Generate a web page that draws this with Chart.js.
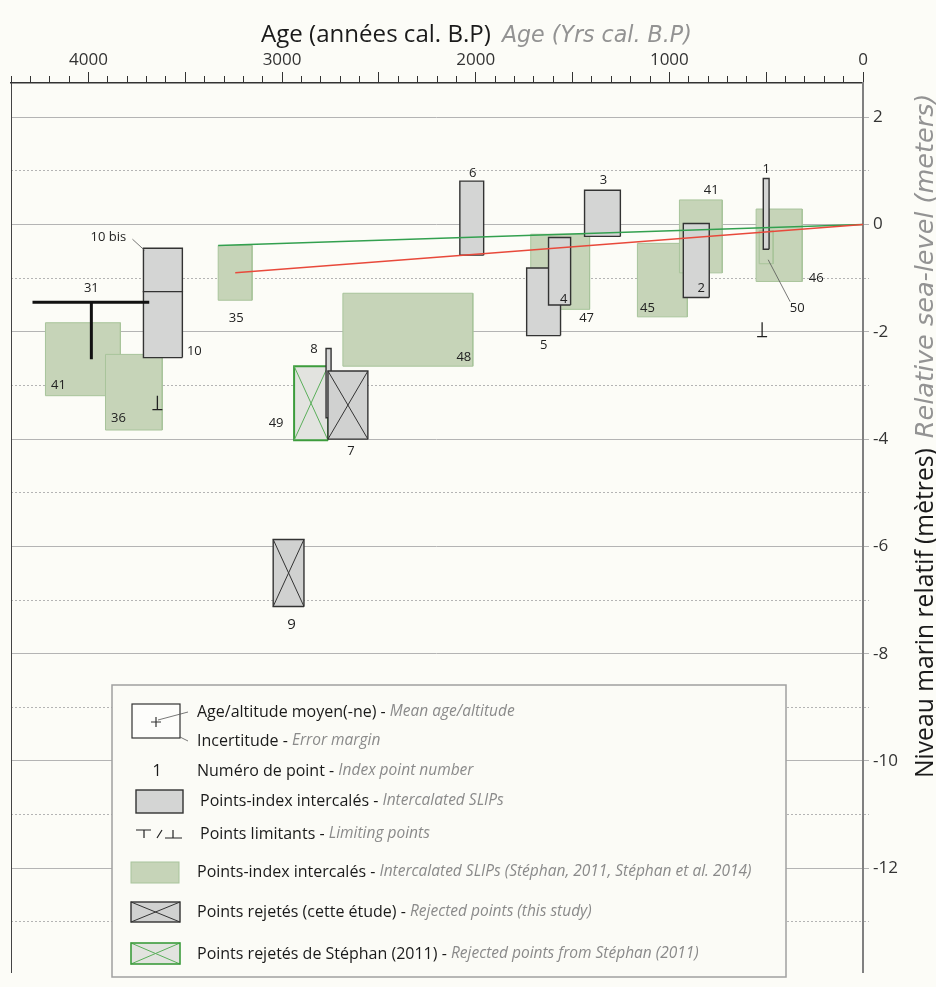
<!DOCTYPE html>
<html lang="fr">
<head>
<meta charset="utf-8">
<title>Niveau marin relatif</title>
<script src="https://cdn.jsdelivr.net/npm/chart.js@4.4.1/dist/chart.umd.min.js"></script>
<style>
html,body{margin:0;padding:0;background:#fcfcf7;overflow:hidden;}
canvas{display:block;}
</style>
</head>
<body>
<canvas id="chart" width="936" height="987"></canvas>
<script>
// ================= DATA =================
// Axis tick labels
const ageTickLabels = [4000, 3000, 2000, 1000, 0];
const levelTickLabels = [2, 0, -2, -4, -6, -8, -10, -12];

// Intercalated SLIPs (this study) - grey boxes
const slipLabels = ['10 bis', '10', '6', '3', '5', '4', '2', '1', '8'];
const slipAgeMin = [3515, 3515, 1959, 1253, 1562, 1510, 794, 485, 2747];
const slipAgeMax = [3716, 3716, 2082, 1438, 1737, 1624, 928, 515, 2773];
const slipZMin   = [-1.25, -2.48, -0.57, -0.22, -2.07, -1.50, -1.36, -0.46, -3.60];
const slipZMax   = [-0.44, -1.25, 0.81, 0.64, -0.81, -0.24, 0.02, 0.86, -2.31];

// Intercalated SLIPs (Stéphan 2011, Stéphan et al. 2014) - green boxes
const stephanLabels = ['41', '36', '35', '48', '47', '45', '41', '46', '50'];
const stephanAgeMin = [3835, 3619, 3155, 2015, 1412, 907, 727, 314, 464];
const stephanAgeMax = [4222, 3912, 3330, 2686, 1716, 1165, 948, 552, 536];
const stephanZMin   = [-3.19, -3.83, -1.41, -2.64, -1.58, -1.72, -0.90, -1.06, -0.73];
const stephanZMax   = [-1.83, -2.42, -0.39, -1.28, -0.18, -0.35, 0.46, 0.29, -0.11];

// Rejected points (this study)
const rejectedLabels = ['7', '9'];
const rejectedAgeMin = [2557, 2887];
const rejectedAgeMax = [2763, 3046];
const rejectedZMin   = [-4.00, -7.12];
const rejectedZMax   = [-2.73, -5.87];

// Rejected points from Stéphan (2011)
const rejStephanLabels = ['49'];
const rejStephanAgeMin = [2763];
const rejStephanAgeMax = [2938];
const rejStephanZMin   = [-4.02];
const rejStephanZMax   = [-2.64];

// Limiting points
const limitLabels  = ['31', '', ''];
const limitType    = ['top', 'bottom', 'bottom'];   // ⊤ or ⊥
const limitAge     = [3985, 3644, 521];
const limitAgeMin  = [3686, null, null];
const limitAgeMax  = [4289, null, null];
const limitZTop    = [-1.45, -3.19, -1.82];
const limitZBottom = [-2.51, -3.45, -2.09];

// Trend lines
const trendGreenAge = [3330, 0];
const trendGreenZ   = [-0.39, 0];
const trendRedAge   = [3242, 0];
const trendRedZ     = [-0.90, 0];

// Titles and legend texts
const titleAgeFr = 'Age (années cal. B.P)';
const titleAgeEn = 'Age (Yrs cal. B.P)';
const titleLevelFr = 'Niveau marin relatif (mètres)';
const titleLevelEn = 'Relative sea-level (meters)';
const legendFr = ['Age/altitude moyen(-ne) - ', 'Incertitude - ', 'Numéro de point - ', 'Points-index intercalés - ',
  'Points limitants - ', 'Points-index intercalés - ', 'Points rejetés (cette étude) - ', 'Points rejetés de Stéphan (2011) - '];
const legendEn = ['Mean age/altitude', 'Error margin', 'Index point number', 'Intercalated SLIPs',
  'Limiting points', 'Intercalated SLIPs (Stéphan, 2011, Stéphan et al. 2014)', 'Rejected points (this study)',
  'Rejected points from Stéphan (2011)'];

// ================= STYLE =================
const FONT = '"Open Sans", "Noto Sans", sans-serif';
const FONT_IT = '"DejaVu Sans", sans-serif';
const STY = {
  grey:   {fill: '#d4d5d4', stroke: '#333333', w: 1.4},
  green:  {fill: '#c6d4b8', stroke: '#a8c49b', w: 1},
  rej:    {fill: '#d0d1d0', stroke: '#333333', w: 1.4, x: '#333333', xw: 1},
  rejG:   {fill: '#e2e3df', stroke: '#3c9c3c', w: 2, x: '#5aaf5a', xw: 1}
};
const labelPlacement = {
  slip:       [['tl', -35, -11], ['br', 12, -6], ['tc', 1, -8], ['tc', 1, -10], ['bc', 0, 10], ['br', -7, -6], ['br', -8, -9], ['tc', 0, -9], ['tl', -12, 1]],
  stephan:    [['bl', 13, -10], ['bl', 13, -12], ['bc', 1, 18], ['br', -9, -9], ['br', -3, 9], ['bl', 10, -9], ['tr', -11, -10], ['br', 14, -3], ['bc', 31, 45]],
  rejected:   [['bc', 3, 12], ['bc', 3, 18]],
  rejStephan: [['bl', -18, -17]]
};
const leaderLines = {slip: {0: ['tl', -11, -9, 1, 2]}, stephan: {8: ['bc', 2, -4, 24, 38]}};

// ================= DATASETS =================
const ds = [];
function boxDs(a0, a1, z0, z1, st) {
  return {data: [{x: a0, y: z0}, {x: a1, y: z0}, {x: a1, y: z1}, {x: a0, y: z1}, {x: a0, y: z0}],
    fill: 'shape', backgroundColor: st.fill, borderColor: st.stroke, borderWidth: st.w,
    pointRadius: 0, tension: 0, borderJoinStyle: 'miter'};
}
function crossDs(a0, a1, z0, z1, st) {
  return {data: [{x: a0, y: z1}, {x: a1, y: z0}, {x: a1, y: null}, {x: a0, y: z0}, {x: a1, y: z1}],
    fill: false, borderColor: st.x, borderWidth: st.xw, pointRadius: 0, spanGaps: false, tension: 0};
}
stephanLabels.forEach((_, i) => ds.push(boxDs(stephanAgeMin[i], stephanAgeMax[i], stephanZMin[i], stephanZMax[i], STY.green)));
rejStephanLabels.forEach((_, i) => {
  ds.push(boxDs(rejStephanAgeMin[i], rejStephanAgeMax[i], rejStephanZMin[i], rejStephanZMax[i], STY.rejG));
  ds.push(crossDs(rejStephanAgeMin[i], rejStephanAgeMax[i], rejStephanZMin[i], rejStephanZMax[i], STY.rejG));
});
slipLabels.forEach((_, i) => ds.push(boxDs(slipAgeMin[i], slipAgeMax[i], slipZMin[i], slipZMax[i], STY.grey)));
rejectedLabels.forEach((_, i) => {
  ds.push(boxDs(rejectedAgeMin[i], rejectedAgeMax[i], rejectedZMin[i], rejectedZMax[i], STY.rej));
  ds.push(crossDs(rejectedAgeMin[i], rejectedAgeMax[i], rejectedZMin[i], rejectedZMax[i], STY.rej));
});
limitLabels.forEach((_, i) => {
  if (limitType[i] === 'top') {
    ds.push({data: [{x: limitAgeMin[i], y: limitZTop[i]}, {x: limitAgeMax[i], y: limitZTop[i]}, {x: limitAge[i], y: null},
      {x: limitAge[i], y: limitZTop[i]}, {x: limitAge[i], y: limitZBottom[i]}],
      fill: false, borderColor: '#111', borderWidth: 3, pointRadius: 0, spanGaps: false, borderCapStyle: 'butt'});
  } else {
    ds.push({data: [{x: limitAge[i], y: limitZTop[i]}, {x: limitAge[i], y: limitZBottom[i]}],
      fill: false, borderColor: '#222', borderWidth: 1.3, pointStyle: 'line',
      pointRadius: c => c.dataIndex === 1 ? 5 : 0, pointBorderColor: '#222', pointBorderWidth: 1.3, pointBackgroundColor: '#222'});
  }
});
ds.push({data: trendGreenAge.map((a, i) => ({x: a, y: trendGreenZ[i]})), fill: false, borderColor: '#33a04f', borderWidth: 1.5, pointRadius: 0});
ds.push({data: trendRedAge.map((a, i) => ({x: a, y: trendRedZ[i]})), fill: false, borderColor: '#e8493b', borderWidth: 1.5, pointRadius: 0});
// painting order: later pushed = on top
ds.forEach((d, i) => { d.type = 'line'; d.order = ds.length - i; d.xAxisID = 'x'; d.yAxisID = 'y'; });

// ================= PLUGINS =================
function drawParts(ctx, x, y, parts) {
  for (const p of parts) {
    ctx.font = p.font; ctx.fillStyle = p.color;
    ctx.fillText(p.text, x, y);
    x += ctx.measureText(p.text).width + (p.gap || 0);
  }
}
// font size that makes `text` span `target` pixels
function fitSize(ctx, text, style, family, target) {
  ctx.font = style + ' 20px ' + family;
  return 20 * target / ctx.measureText(text).width;
}

const labelPlugin = {
  id: 'boxLabels',
  afterDatasetsDraw(chart) {
    const {ctx, scales: {x, y}} = chart;
    const groups = [
      ['slip', slipLabels, slipAgeMin, slipAgeMax, slipZMin, slipZMax],
      ['stephan', stephanLabels, stephanAgeMin, stephanAgeMax, stephanZMin, stephanZMax],
      ['rejected', rejectedLabels, rejectedAgeMin, rejectedAgeMax, rejectedZMin, rejectedZMax],
      ['rejStephan', rejStephanLabels, rejStephanAgeMin, rejStephanAgeMax, rejStephanZMin, rejStephanZMax]
    ];
    ctx.save();
    ctx.textAlign = 'center'; ctx.textBaseline = 'middle';
    const anchor = (k, l, r, t, b) => {
      const cx = (l + r) / 2;
      return {tl: [l, t], tr: [r, t], bl: [l, b], br: [r, b], tc: [cx, t], bc: [cx, b]}[k];
    };
    for (const [g, labels, a0s, a1s, z0s, z1s] of groups) {
      labels.forEach((lab, i) => {
        const p0 = x.getPixelForValue(a0s[i]), p1 = x.getPixelForValue(a1s[i]);
        const q0 = y.getPixelForValue(z0s[i]), q1 = y.getPixelForValue(z1s[i]);
        const l = Math.min(p0, p1), r = Math.max(p0, p1), t = Math.min(q0, q1), b = Math.max(q0, q1);
        const [k, dx, dy] = labelPlacement[g][i];
        const [ax, ay] = anchor(k, l, r, t, b);
        ctx.font = (lab === '9' ? '15px ' : '13px ') + FONT;
        ctx.fillStyle = '#222';
        ctx.fillText(lab, ax + dx, ay + dy);
        const ll = leaderLines[g] && leaderLines[g][i];
        if (ll) {
          const [k2, x1, y1, x2, y2] = ll;
          const [bx, by] = anchor(k2, l, r, t, b);
          ctx.strokeStyle = '#555'; ctx.lineWidth = 0.8;
          ctx.beginPath(); ctx.moveTo(bx + x1, by + y1); ctx.lineTo(bx + x2, by + y2); ctx.stroke();
        }
      });
    }
    limitLabels.forEach((lab, i) => {
      if (!lab) return;
      ctx.font = '13px ' + FONT; ctx.fillStyle = '#222';
      ctx.fillText(lab, x.getPixelForValue(limitAge[i]), y.getPixelForValue(limitZTop[i]) - 14);
    });
    ctx.restore();
  }
};

const decorPlugin = {
  id: 'decor',
  afterDraw(chart) {
    const ctx = chart.ctx;
    ctx.save();
    ctx.textAlign = 'left'; ctx.textBaseline = 'alphabetic';
    // ---- top title ----
    const tfs = fitSize(ctx, titleAgeFr, '', FONT, 230);
    const tis = fitSize(ctx, titleAgeEn, 'oblique', FONT_IT, 190);
    drawParts(ctx, 261, 42, [
      {text: titleAgeFr, font: tfs + 'px ' + FONT, color: '#1a1a1a', gap: 11},
      {text: titleAgeEn, font: 'oblique ' + tis + 'px ' + FONT_IT, color: '#939393'}
    ]);
    // ---- right title (rotated, reads bottom to top) ----
    const rfs = fitSize(ctx, titleLevelFr, '', FONT, 330);
    const ris = fitSize(ctx, titleLevelEn, 'oblique', FONT_IT, 345);
    ctx.translate(933, 778);
    ctx.rotate(-Math.PI / 2);
    drawParts(ctx, 0, 0, [
      {text: titleLevelFr, font: rfs + 'px ' + FONT, color: '#1a1a1a', gap: 10},
      {text: titleLevelEn, font: 'oblique ' + ris + 'px ' + FONT_IT, color: '#939393'}
    ]);
    ctx.setTransform(1, 0, 0, 1, 0, 0);

    // ---- legend ----
    ctx.fillStyle = '#fbfbf6';
    ctx.fillRect(112, 685, 674, 292);
    ctx.strokeStyle = '#a0a0a0'; ctx.lineWidth = 1.5;
    ctx.strokeRect(112, 685, 674, 292);

    const rowY = [712, 741, 771, 801, 834, 872, 912, 954];
    const rowX = [197, 197, 197, 200, 200, 197, 197, 197];
    ctx.textBaseline = 'middle';
    rowY.forEach((yy, i) => {
      drawParts(ctx, rowX[i], yy, [
        {text: legendFr[i], font: '16px ' + FONT, color: '#1a1a1a'},
        {text: legendEn[i], font: 'italic 15.5px ' + FONT, color: '#8a8a8a'}
      ]);
    });
    // symbol: mean + error box
    ctx.lineWidth = 1.2; ctx.strokeStyle = '#333';
    ctx.fillStyle = '#fdfdfb';
    ctx.fillRect(132, 704, 48, 34); ctx.strokeRect(132, 704, 48, 34);
    ctx.beginPath();
    ctx.moveTo(151, 722); ctx.lineTo(161, 722); ctx.moveTo(156, 717); ctx.lineTo(156, 727);
    ctx.stroke();
    ctx.lineWidth = 0.8; ctx.strokeStyle = '#555';
    ctx.beginPath(); ctx.moveTo(158, 720); ctx.lineTo(188, 712);
    ctx.moveTo(180, 737); ctx.lineTo(188, 741); ctx.stroke();
    // number
    ctx.textAlign = 'center'; ctx.fillStyle = '#1a1a1a'; ctx.font = '16px ' + FONT;
    ctx.fillText('1', 157, 771);
    ctx.textAlign = 'left';
    // grey box
    ctx.fillStyle = STY.grey.fill; ctx.strokeStyle = '#333'; ctx.lineWidth = 1.4;
    ctx.fillRect(136, 790, 47, 23); ctx.strokeRect(136, 790, 47, 23);
    // limiting symbols
    ctx.lineWidth = 1.2; ctx.strokeStyle = '#222';
    ctx.beginPath();
    ctx.moveTo(136, 830); ctx.lineTo(151, 830); ctx.moveTo(144, 830); ctx.lineTo(144, 838);
    ctx.moveTo(157, 838); ctx.lineTo(162, 830);
    ctx.moveTo(165, 838); ctx.lineTo(182, 838); ctx.moveTo(173, 830); ctx.lineTo(173, 838);
    ctx.stroke();
    // green box
    ctx.fillStyle = STY.green.fill; ctx.strokeStyle = STY.green.stroke; ctx.lineWidth = 1;
    ctx.fillRect(131, 862, 48, 21); ctx.strokeRect(131, 862, 48, 21);
    // rejected boxes
    const crossBox = (x0, y0, w, h, st) => {
      ctx.fillStyle = st.fill; ctx.fillRect(x0, y0, w, h);
      ctx.strokeStyle = st.x; ctx.lineWidth = st.xw;
      ctx.beginPath(); ctx.moveTo(x0, y0); ctx.lineTo(x0 + w, y0 + h); ctx.moveTo(x0, y0 + h); ctx.lineTo(x0 + w, y0); ctx.stroke();
      ctx.strokeStyle = st.stroke; ctx.lineWidth = st.w === 2 ? 1.6 : 1.4; ctx.strokeRect(x0, y0, w, h);
    };
    crossBox(131, 902, 49, 20, STY.rej);
    crossBox(131, 943, 49, 21, STY.rejG);
    ctx.restore();
  }
};

// ================= CHART =================
const AGE_MAX = 4400, Z_MIN = -13.95, Z_MAX = 2.64;
const isOdd = v => Math.abs(Math.round(v)) % 2 === 1;
const stepTicks = (lo, hi, step) => { const t = []; for (let v = lo; v <= hi; v += step) t.push({value: v}); return t; };

new Chart(document.getElementById('chart'), {
  type: 'line',
  data: {datasets: ds},
  options: {
    responsive: false,
    animation: false,
    events: [],
    layout: {padding: 0},
    plugins: {legend: {display: false}, tooltip: {enabled: false}, title: {display: false}},
    scales: {
      x: {
        type: 'linear', position: 'top', min: 0, max: AGE_MAX, reverse: true, weight: 0,
        afterBuildTicks: s => { s.ticks = stepTicks(0, AGE_MAX, 100); },
        afterFit: s => { s.height = 0; },
        ticks: {display: false},
        grid: {drawOnChartArea: false, tickLength: 7, color: '#333', lineWidth: 1},
        border: {display: true, color: '#333', width: 1.5}
      },
      x2: {
        type: 'linear', position: 'top', min: 0, max: AGE_MAX, reverse: true, weight: 1,
        afterBuildTicks: s => { s.ticks = stepTicks(0, AGE_MAX, 500); },
        afterFit: s => { s.height = 83; },
        ticks: {autoSkip: false, maxRotation: 0, minRotation: 0, padding: 2,
          callback: v => ageTickLabels.includes(Math.round(v)) ? String(Math.round(v)) : '',
          font: {family: FONT, size: 17}, color: '#333'},
        grid: {drawOnChartArea: false, tickLength: 11, color: '#333', lineWidth: 1},
        border: {display: false}
      },
      yl: {
        type: 'linear', position: 'left', min: Z_MIN, max: Z_MAX,
        afterFit: s => { s.width = 11; },
        ticks: {display: false},
        grid: {display: false},
        border: {display: true, color: '#444', width: 1}
      },
      y: {
        type: 'linear', position: 'right', min: Z_MIN, max: Z_MAX,
        afterBuildTicks: s => { s.ticks = stepTicks(-13, 2, 1); },
        afterFit: s => { s.width = 73; },
        ticks: {autoSkip: false, padding: 4,
          callback: v => levelTickLabels.includes(Math.round(v)) ? String(Math.round(v)) : '',
          font: {family: FONT, size: 17}, color: '#333'},
        grid: {color: '#b4b4b4', lineWidth: 1, tickLength: 6,
          tickBorderDash: c => (c.tick && isOdd(c.tick.value)) ? [2, 2] : []},
        border: {display: true, color: '#808080', width: 2,
          dash: c => (c.tick && isOdd(c.tick.value)) ? [2, 2] : []}
      }
    }
  },
  plugins: [labelPlugin, decorPlugin]
});
</script>
</body>
</html>
